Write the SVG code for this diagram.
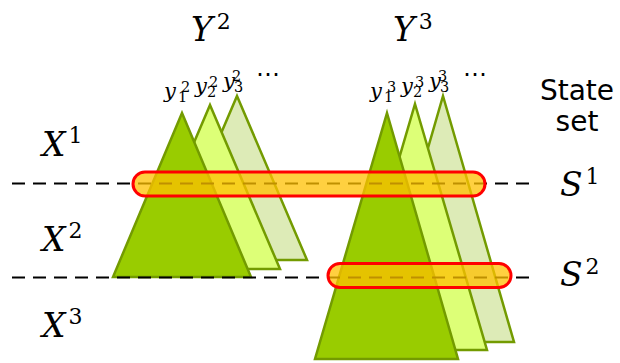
<svg xmlns="http://www.w3.org/2000/svg" width="620" height="363" viewBox="0 0 620 363">
<style>
.t1{fill:#99CC00;stroke:#739B00;stroke-width:2.5}
.t2{fill:#DDFF77;stroke:#739B00;stroke-width:2.5}
.t3{fill:#DDEBB7;stroke:#739B00;stroke-width:2.5}
.dash{stroke:#000;stroke-width:2.2;stroke-dasharray:13 8;fill:none}
.pill{fill:#FFC000;fill-opacity:0.75;stroke:#FF0000;stroke-width:3}
.m{font-family:"DejaVu Serif","Liberation Serif",serif;font-style:italic;font-size:33px;fill:#000}
.ms{font-size:22px;font-style:normal}
.y{font-family:"DejaVu Serif","Liberation Serif",serif;font-style:italic;font-size:21px;fill:#000}
.ys{font-size:14.5px;font-style:normal}
.dots{font-family:"DejaVu Sans",sans-serif;font-size:24px;font-style:normal}
.lbl{font-family:"DejaVu Sans",Verdana,sans-serif;font-size:28px;fill:#000;text-anchor:middle}
</style>
<g id="tree-Y2">
<polygon class="t3" points="237,96 307,260 167,260"/>
<polygon class="t2" points="210,105 280,269 140,269"/>
<polygon class="t1" points="182,113 251,277 113,277"/>
</g>
<g id="tree-Y3">
<polygon class="t3" points="443,96 514,342 372,342"/>
<polygon class="t2" points="415,104 487,350 343,350"/>
<polygon class="t1" points="387,113 458,359 315,359"/>
</g>
<g id="connectors">
<line class="dash" x1="12" y1="183.5" x2="535" y2="183.5"/>
<line class="dash" x1="12" y1="277.5" x2="535" y2="277.5"/>
</g>
<g id="S1-set">
<rect class="pill" x="133" y="172" width="352" height="24" rx="12"/>
</g>
<g id="S2-set">
<rect class="pill" x="328" y="263.5" width="183" height="24" rx="12"/>
</g>
<g id="label-Y2">
<text class="m" x="191" y="41">Y<tspan class="ms" dx="4" dy="-12">2</tspan></text>
</g>
<g id="label-Y3">
<text class="m" x="393" y="41">Y<tspan class="ms" dx="4" dy="-12">3</tspan></text>
</g>
<g id="labels-y2">
<text class="y"><tspan x="164" y="98">y</tspan><tspan class="ys" x="181" y="91.5">2</tspan><tspan class="ys" x="178" y="102">1</tspan><tspan x="195" y="93">y</tspan><tspan class="ys" x="209" y="86.5">2</tspan><tspan class="ys" x="207" y="97">2</tspan><tspan x="223" y="87.5">y</tspan><tspan class="ys" x="232" y="80.5">2</tspan><tspan class="ys" x="234" y="91.5">3</tspan><tspan class="dots" x="256" y="82">⋯</tspan></text>
</g>
<g id="labels-y3">
<text class="y"><tspan x="370" y="98">y</tspan><tspan class="ys" x="387" y="91.5">3</tspan><tspan class="ys" x="384" y="102">1</tspan><tspan x="401" y="93">y</tspan><tspan class="ys" x="415" y="86.5">3</tspan><tspan class="ys" x="413" y="97">2</tspan><tspan x="429" y="87.5">y</tspan><tspan class="ys" x="438" y="80.5">3</tspan><tspan class="ys" x="440" y="91.5">3</tspan><tspan class="dots" x="463" y="82">⋯</tspan></text>
</g>
<g id="label-X">
<text class="m" x="42" y="156">X<tspan class="ms" dx="3" dy="-13">1</tspan></text>
<text class="m" x="42" y="251">X<tspan class="ms" dx="3" dy="-13">2</tspan></text>
<text class="m" x="42" y="337">X<tspan class="ms" dx="3" dy="-13">3</tspan></text>
</g>
<g id="label-S">
<text class="m" x="560" y="196">S<tspan class="ms" dx="3" dy="-12">1</tspan></text>
<text class="m" x="560" y="286">S<tspan class="ms" dx="3" dy="-12">2</tspan></text>
</g>
<g id="label-state-set">
<text class="lbl" x="577" y="100">State</text>
<text class="lbl" x="577" y="131">set</text>
</g>
</svg>
